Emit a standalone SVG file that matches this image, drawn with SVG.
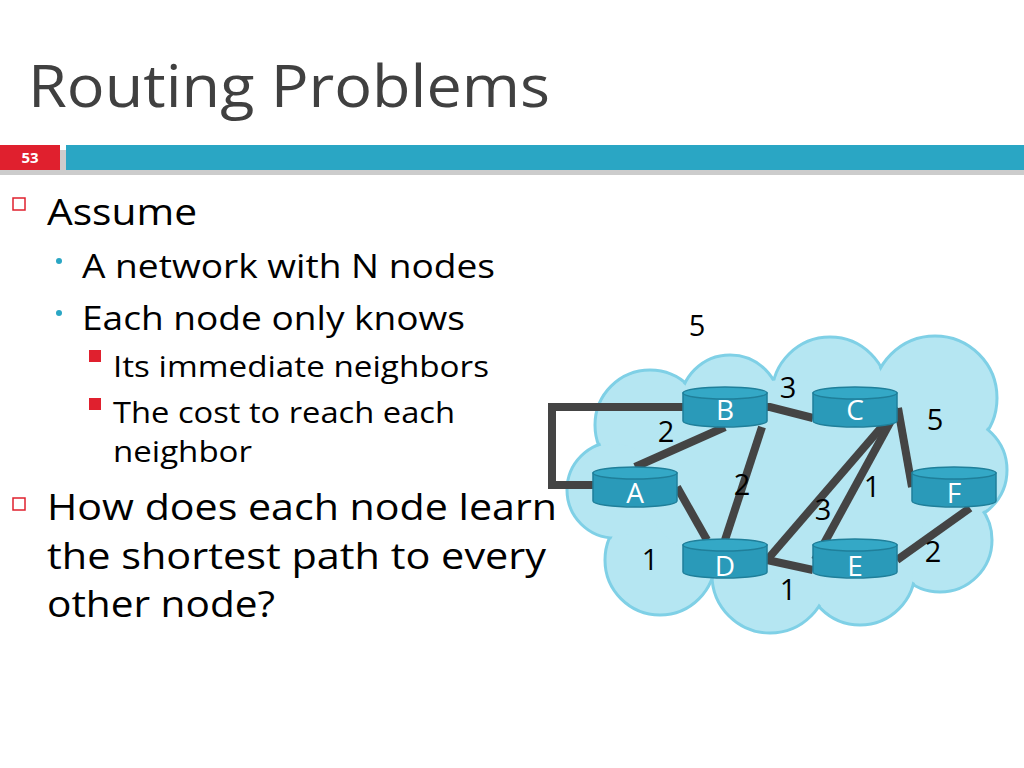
<svg xmlns="http://www.w3.org/2000/svg" width="1024" height="768" viewBox="0 0 1024 768">
<style>
text{font-family:"Open Sans","Noto Sans",sans-serif;fill:#000}
.l1{font-size:37px}.l2{font-size:33px}.l3{font-size:29px}
.w{font-size:29px}
.cl{fill:#b5e6f2;stroke:#7fd0e6;stroke-width:3}
.cf{fill:#b5e6f2}
.e{stroke:#444;stroke-width:8;fill:none}
.cylb{fill:#2a9ab9;stroke:#1f7f9a;stroke-width:1.5}
.cylt{fill:#34a8c6;stroke:#1f7f9a;stroke-width:1.5}
.nl{font-size:28px;fill:#fff}
</style>
<rect width="1024" height="768" fill="#fff"/>
<text x="28" y="107" font-size="59" style="fill:#404040" textLength="522" lengthAdjust="spacingAndGlyphs">Routing Problems</text>
<rect x="0" y="150" width="1024" height="25" fill="#999" opacity="0.5"/>
<rect x="0" y="145" width="60" height="25" fill="#e0202e"/>
<rect x="66" y="145" width="958" height="25" fill="#2aa6c4"/>
<text x="30" y="163" font-size="15" font-weight="bold" text-anchor="middle" style="fill:#fff">53</text>
<rect x="13" y="198" width="12" height="12" fill="none" stroke="#e0202e" stroke-width="1.5"/>
<text class="l1" x="47" y="225" textLength="150" lengthAdjust="spacingAndGlyphs">Assume</text>
<circle cx="59" cy="261" r="3" fill="#2aa6c4"/>
<text class="l2" x="82" y="278" textLength="413" lengthAdjust="spacingAndGlyphs">A network with N nodes</text>
<circle cx="59" cy="313" r="3" fill="#2aa6c4"/>
<text class="l2" x="82" y="330" textLength="383" lengthAdjust="spacingAndGlyphs">Each node only knows</text>
<rect x="89" y="350" width="12" height="12" fill="#e0202e"/>
<text class="l3" x="113" y="377" textLength="376" lengthAdjust="spacingAndGlyphs">Its immediate neighbors</text>
<rect x="89" y="398" width="12" height="12" fill="#e0202e"/>
<text class="l3" x="113" y="423" textLength="342" lengthAdjust="spacingAndGlyphs">The cost to reach each</text>
<text class="l3" x="113" y="462" textLength="139" lengthAdjust="spacingAndGlyphs">neighbor</text>
<rect x="13" y="498" width="12" height="12" fill="none" stroke="#e0202e" stroke-width="1.5"/>
<text class="l1" x="47" y="520" textLength="510" lengthAdjust="spacingAndGlyphs">How does each node learn</text>
<text class="l1" x="47" y="569" textLength="499" lengthAdjust="spacingAndGlyphs">the shortest path to every</text>
<text class="l1" x="47" y="617" textLength="228" lengthAdjust="spacingAndGlyphs">other node?</text>
<g id="cloud">
<g class="cl">
<circle cx="650" cy="425" r="55"/><circle cx="730" cy="405" r="50"/><circle cx="830" cy="395" r="58"/><circle cx="935" cy="398" r="62"/><circle cx="955" cy="470" r="52"/><circle cx="940" cy="540" r="52"/><circle cx="860" cy="570" r="55"/><circle cx="770" cy="575" r="58"/><circle cx="660" cy="560" r="55"/><circle cx="615" cy="490" r="48"/>
</g>
<g class="cf">
<circle cx="650" cy="425" r="53"/><circle cx="730" cy="405" r="48"/><circle cx="830" cy="395" r="56"/><circle cx="935" cy="398" r="60"/><circle cx="955" cy="470" r="50"/><circle cx="940" cy="540" r="50"/><circle cx="860" cy="570" r="53"/><circle cx="770" cy="575" r="56"/><circle cx="660" cy="560" r="53"/><circle cx="615" cy="490" r="46"/><ellipse cx="790" cy="480" rx="150" ry="100"/>
</g>
</g>
<g id="connectors">
<path class="e" d="M595,485 H552 V407 H770 L813,418"/>
<path class="e" d="M635,467 L725,427"/>
<path class="e" d="M677,487 L707,540"/>
<path class="e" d="M762,427 L725,540"/>
<path class="e" d="M898,408 L767,560"/>
<path class="e" d="M898,408 L815,560"/>
<path class="e" d="M898,408 L912,487"/>
<path class="e" d="M767,560 L813,570"/>
<path class="e" d="M897,560 L970,508"/>
</g>
<g id="nodes">
<g id="B"><path class="cylb" d="M683,393 V421 A42,6 0 0 0 767,421 V393 Z"/><ellipse class="cylt" cx="725" cy="393" rx="42" ry="6"/><text class="nl" x="725" y="420" text-anchor="middle">B</text></g>
<g id="C"><path class="cylb" d="M813,393 V421 A42,6 0 0 0 897,421 V393 Z"/><ellipse class="cylt" cx="855" cy="393" rx="42" ry="6"/><text class="nl" x="855" y="420" text-anchor="middle">C</text></g>
<g id="A"><path class="cylb" d="M593,473 V501 A42,6 0 0 0 677,501 V473 Z"/><ellipse class="cylt" cx="635" cy="473" rx="42" ry="6"/><text class="nl" x="635" y="503" text-anchor="middle">A</text></g>
<g id="F"><path class="cylb" d="M912,473 V501 A42,6 0 0 0 996,501 V473 Z"/><ellipse class="cylt" cx="954" cy="473" rx="42" ry="6"/><text class="nl" x="954" y="503" text-anchor="middle">F</text></g>
<g id="D"><path class="cylb" d="M683,545 V572 A42,6 0 0 0 767,572 V545 Z"/><ellipse class="cylt" cx="725" cy="545" rx="42" ry="6"/><text class="nl" x="725" y="576" text-anchor="middle">D</text></g>
<g id="E"><path class="cylb" d="M813,545 V572 A42,6 0 0 0 897,572 V545 Z"/><ellipse class="cylt" cx="855" cy="545" rx="42" ry="6"/><text class="nl" x="855" y="576" text-anchor="middle">E</text></g>
</g>
<g id="weights" text-anchor="middle">
<text class="w" x="697" y="336">5</text>
<text class="w" x="788" y="398">3</text>
<text class="w" x="935" y="430">5</text>
<text class="w" x="666" y="442">2</text>
<text class="w" x="742" y="495">2</text>
<text class="w" x="872" y="497">1</text>
<text class="w" x="823" y="520">3</text>
<text class="w" x="650" y="570">1</text>
<text class="w" x="933" y="562">2</text>
<text class="w" x="788" y="600">1</text>
</g>
</svg>
